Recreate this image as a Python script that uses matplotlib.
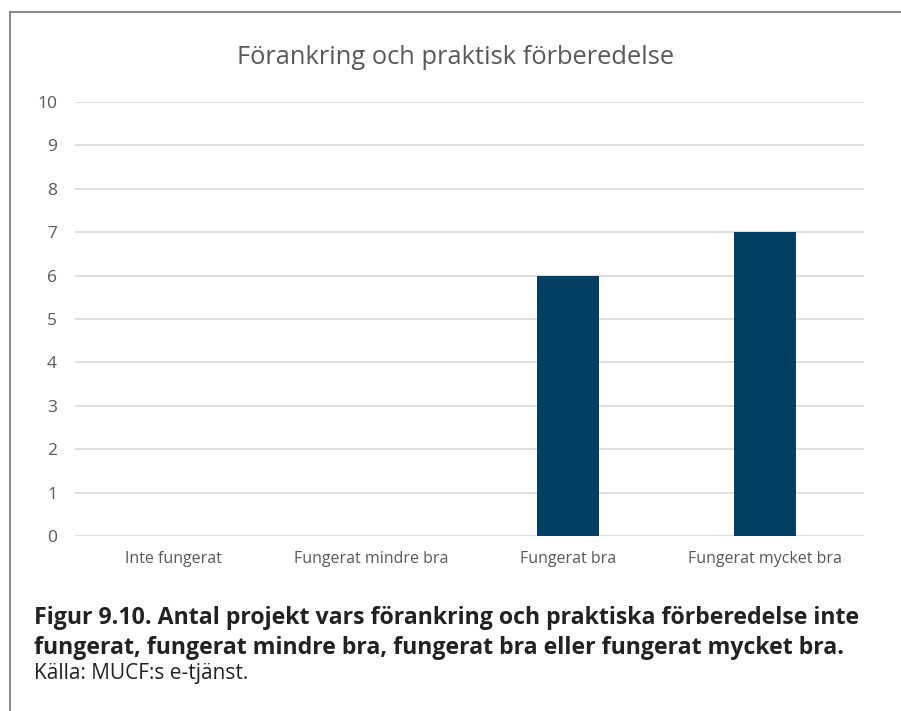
import numpy as np
import matplotlib.pyplot as plt
from matplotlib.lines import Line2D

# data
categories = ['Inte fungerat', 'Fungerat mindre bra', 'Fungerat bra', 'Fungerat mycket bra']
values = [0, 0, 6, 7]
yticks = list(range(0, 11))

title = 'Förankring och praktisk förberedelse'
caption = ('Figur 9.10. Antal projekt vars förankring och praktiska förberedelse inte\n'
           'fungerat, fungerat mindre bra, fungerat bra eller fungerat mycket bra.')
source = 'Källa: MUCF:s e-tjänst.'

W, H = 901, 711
fig = plt.figure(figsize=(W / 100, H / 100), dpi=100)

# frame (top and left edges only visible)
fig.add_artist(Line2D([10 / W, 10 / W], [0, 1 - 12 / H], color='#767676', lw=1.2))
fig.add_artist(Line2D([10 / W, 1], [1 - 12 / H, 1 - 12 / H], color='#767676', lw=1.2))

ax = fig.add_axes([75 / W, 1 - 536 / H, (864 - 75) / W, (536 - 102) / H])
x = np.arange(len(categories))
ax.bar(x, values, width=0.315, color='#023F63', zorder=3)
ax.set_xlim(-0.5, len(categories) - 0.5)
ax.set_ylim(0, 10)
ax.set_yticks(yticks)
ax.set_xticks(x)
ax.set_xticklabels(categories, fontsize=11.5, color='#595959', family='Open Sans')
ax.tick_params(axis='y', labelsize=12.5, labelcolor='#595959', length=0, pad=13)
ax.tick_params(axis='x', length=0, pad=11)
for lab in ax.get_yticklabels():
    lab.set_family('Open Sans')
ax.grid(axis='y', color='#D9D9D9', lw=1.2, zorder=0)
for s in ax.spines.values():
    s.set_visible(False)

fig.text(456 / W, 1 - 57 / H, title, ha='center', va='center', fontsize=18.4,
         color='#595959', family='Open Sans')
fig.text(34 / W, 1 - 633 / H, caption, ha='left', va='center', fontsize=16.7,
         fontweight='bold', color='#222222', family='Open Sans', linespacing=1.3)
fig.text(34 / W, 1 - 674 / H, source, ha='left', va='center', fontsize=15,
         color='#222222', family='Open Sans')

plt.savefig('out.png', dpi=100)
